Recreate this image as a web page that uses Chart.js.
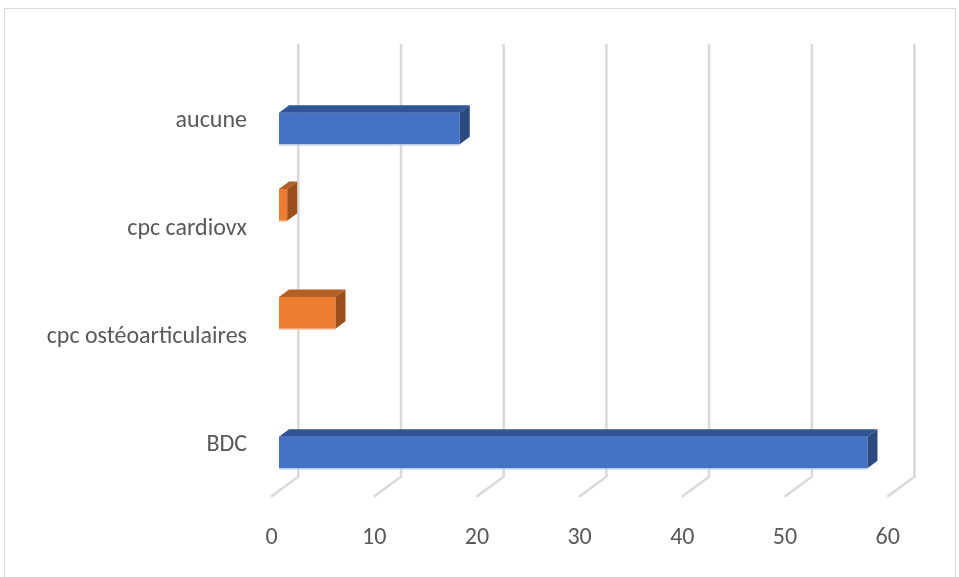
<!DOCTYPE html>
<html>
<head>
<meta charset="utf-8">
<script src="https://cdn.jsdelivr.net/npm/chart.js@4/dist/chart.umd.min.js"></script>
<style>
  html, body { margin: 0; padding: 0; background: #ffffff; }
  #wrap { width: 959px; height: 577px; }
</style>
</head>
<body>
<div id="wrap"><canvas id="c" width="959" height="577"></canvas></div>
<script>
// Categories, top to bottom
const categories = ['aucune', 'cpc cardiovx', 'cpc ostéoarticulaires', 'BDC'];
// Two series: blue holds aucune / BDC, orange holds the two cpc rows
const blueValues = [17.6, null, null, 57.3];
const orangeValues = [null, 0.8, 5.5, null];
// Value axis ticks
const xTicks = [0, 10, 20, 30, 40, 50, 60];

const FONT = 'Carlito, Lato, "Open Sans", sans-serif';
const TEXT = '#595959';
const GRID = '#d9d9d9';

// Oblique depth used for the box faces and the wall/floor
const BAR_DX = 10, BAR_DY = 7.5;
const WALL_BACK = 19.3, WALL_FRONT = -8;

const depth3d = {
  id: 'depth3d',
  beforeDraw(chart) {
    const ctx = chart.ctx;
    ctx.save();
    ctx.fillStyle = '#ffffff';
    ctx.fillRect(0, 0, chart.width, chart.height);
    ctx.strokeStyle = GRID;
    ctx.lineWidth = 1;
    ctx.strokeRect(4.5, 8.5, 951, 600);
    ctx.restore();
  },
  beforeDatasetsDraw(chart) {
    const { ctx, chartArea, scales } = chart;
    const topY = chartArea.top - 15;
    const wallBottom = chartArea.bottom - 14;
    const floorFront = chartArea.bottom + 6;
    ctx.save();
    ctx.strokeStyle = GRID;
    ctx.lineWidth = 2.5;
    ctx.lineJoin = 'miter';
    xTicks.forEach(v => {
      const px = scales.x.getPixelForValue(v);
      ctx.beginPath();
      ctx.moveTo(px + WALL_BACK, topY);
      ctx.lineTo(px + WALL_BACK, wallBottom);
      ctx.lineTo(px + WALL_FRONT, floorFront);
      ctx.stroke();
    });
    ctx.restore();
  },
  afterDatasetsDraw(chart) {
    const ctx = chart.ctx;
    chart.data.datasets.forEach((ds, di) => {
      const meta = chart.getDatasetMeta(di);
      meta.data.forEach((el, i) => {
        if (ds.data[i] == null) return;
        const p = el.getProps(['x', 'y', 'base', 'height'], true);
        const top = p.y - p.height / 2;
        const bottom = p.y + p.height / 2;
        const left = p.base, right = p.x;
        ctx.save();
        // top face
        ctx.fillStyle = ds.topColor;
        ctx.beginPath();
        ctx.moveTo(left, top);
        ctx.lineTo(left + BAR_DX, top - BAR_DY);
        ctx.lineTo(right + BAR_DX, top - BAR_DY);
        ctx.lineTo(right, top);
        ctx.closePath();
        ctx.fill();
        // end face
        ctx.fillStyle = ds.sideColor;
        ctx.beginPath();
        ctx.moveTo(right, top);
        ctx.lineTo(right + BAR_DX, top - BAR_DY);
        ctx.lineTo(right + BAR_DX, bottom - BAR_DY);
        ctx.lineTo(right, bottom);
        ctx.closePath();
        ctx.fill();
        // pale lower edge of the front face
        ctx.fillStyle = ds.edgeColor;
        ctx.fillRect(left, bottom, right - left, 1.2);
        ctx.restore();
      });
    });
  }
};

new Chart(document.getElementById('c'), {
  type: 'bar',
  data: {
    labels: categories,
    datasets: [
      {
        data: orangeValues,
        backgroundColor: '#ed7d31',
        topColor: '#b35f26',
        sideColor: '#9c4f1b',
        edgeColor: '#f8cbad',
        borderWidth: 0,
        categoryPercentage: 0.585,
        barPercentage: 1
      },
      {
        data: blueValues,
        backgroundColor: '#4472c4',
        topColor: '#2f5597',
        sideColor: '#2a4a80',
        edgeColor: '#b4c7e7',
        borderWidth: 0,
        categoryPercentage: 0.585,
        barPercentage: 1
      }
    ]
  },
  options: {
    responsive: false,
    animation: false,
    indexAxis: 'y',
    layout: { padding: { left: 0, top: 58.7, right: 63.8, bottom: 0 } },
    plugins: { legend: { display: false }, tooltip: { enabled: false } },
    scales: {
      x: {
        min: 0,
        max: 60,
        ticks: {
          stepSize: 10,
          labelOffset: -7.5,
          padding: 33,
          color: TEXT,
          font: { family: FONT, size: 24 }
        },
        grid: { display: false, drawTicks: false },
        border: { display: false },
        afterFit(scale) { scale.height = 86.3; }
      },
      y: {
        ticks: {
          padding: 32,
          labelOffset: 8.5,
          color: TEXT,
          font: { family: FONT, size: 24 }
        },
        grid: { display: false, drawTicks: false },
        border: { display: false },
        afterFit(scale) { scale.width = 279; }
      }
    }
  },
  plugins: [depth3d]
});
</script>
</body>
</html>
